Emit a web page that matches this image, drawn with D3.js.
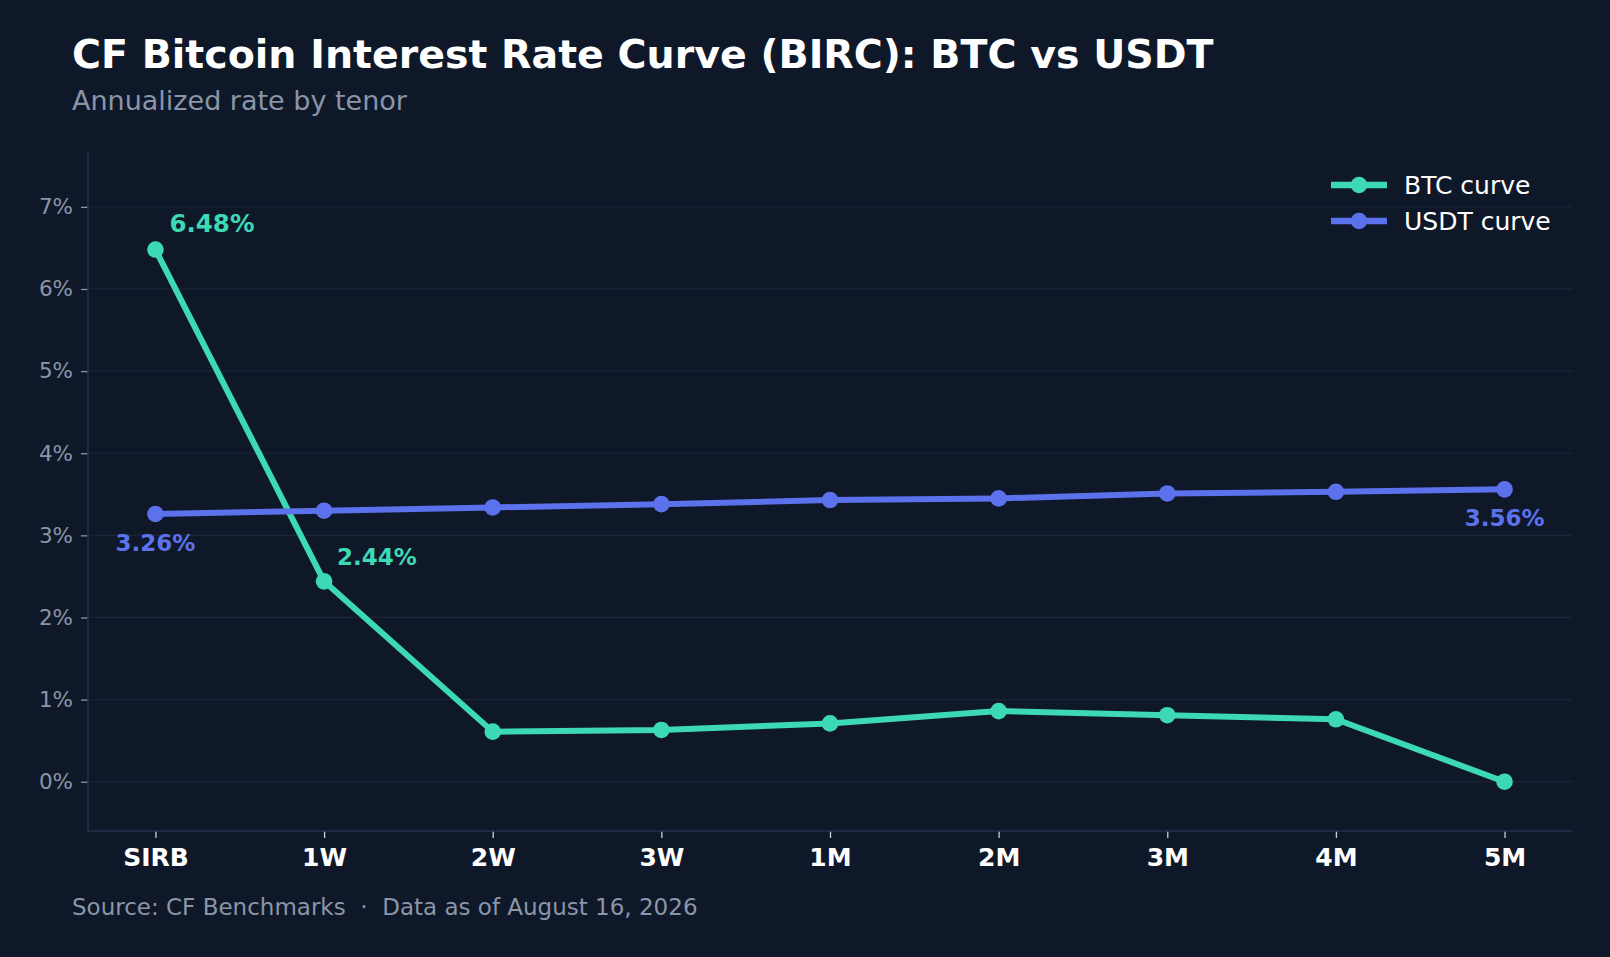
<!DOCTYPE html>
<html>
<head>
<meta charset="utf-8">
<script src="https://cdn.jsdelivr.net/npm/d3@7"></script>
<style>
  html, body { margin: 0; padding: 0; background: #0f1829; }
  svg { display: block; font-family: "DejaVu Sans", sans-serif; }
</style>
</head>
<body>
<svg id="chart"></svg>
<script>
'use strict';

// data
var tenors = ['SIRB', '1W', '2W', '3W', '1M', '2M', '3M', '4M', '5M'];
var btcRates = [6.48, 2.44, 0.61, 0.63, 0.71, 0.86, 0.81, 0.76, 0.00];
var usdtRates = [3.26, 3.30, 3.34, 3.38, 3.43, 3.45, 3.51, 3.53, 3.56];
var yTicks = [0, 1, 2, 3, 4, 5, 6, 7];

var seriesNames = ['BTC curve', 'USDT curve'];
var seriesColors = ['#3dd9b4', '#5b72ec'];

function render() {
    var w = 1610;
    var h = 957;
    var margin = { top: 151, right: 38, bottom: 126, left: 88 };

    var svg = d3.select('#chart').attr('width', w).attr('height', h);
    svg.append('rect').attr('width', w).attr('height', h).attr('fill', '#0f1829');

    var x = d3.scaleLinear()
        .domain([-0.4, tenors.length - 1 + 0.4])
        .range([margin.left, w - margin.right]);
    var y = d3.scaleLinear()
        .domain([-0.6, 7.68])
        .range([h - margin.bottom, margin.top]);

    // grid
    svg.append('g').selectAll('line').data(yTicks).enter().append('line')
        .attr('x1', margin.left).attr('x2', w - margin.right)
        .attr('y1', function (d) { return y(d); })
        .attr('y2', function (d) { return y(d); })
        .attr('stroke', '#1b2538').attr('stroke-width', 1.3);

    // y axis
    var yAxis = svg.append('g')
        .attr('transform', 'translate(' + margin.left + ',0)')
        .call(d3.axisLeft(y).tickValues(yTicks).tickSize(7).tickPadding(8)
            .tickFormat(function (d) { return d + '%'; }));
    yAxis.select('.domain').remove();
    yAxis.selectAll('.tick line').attr('stroke', '#8b95a8').attr('stroke-width', 1.3);
    yAxis.selectAll('.tick text').attr('fill', '#8b95a8')
        .style('font-size', '21.5px').style('font-family', '"DejaVu Sans", sans-serif');

    // x axis
    var xAxis = svg.append('g')
        .attr('transform', 'translate(0,' + (h - margin.bottom) + ')')
        .call(d3.axisBottom(x).tickValues(d3.range(tenors.length)).tickSize(7).tickPadding(10)
            .tickFormat(function (d) { return tenors[d]; }));
    xAxis.select('.domain').remove();
    xAxis.selectAll('.tick line').attr('stroke', '#c9cfda').attr('stroke-width', 1.3);
    xAxis.selectAll('.tick text').attr('fill', '#ffffff')
        .style('font-size', '25px').style('font-weight', 'bold')
        .style('font-family', '"DejaVu Sans", sans-serif');

    // spines
    svg.append('path')
        .attr('d', 'M' + margin.left + ',' + margin.top + 'V' + (h - margin.bottom) + 'H' + (w - margin.right))
        .attr('fill', 'none').attr('stroke', '#243049').attr('stroke-width', 1.5);

    var line = d3.line()
        .x(function (d, i) { return x(i); })
        .y(function (d) { return y(d); });

    [btcRates, usdtRates].forEach(function (vals, k) {
        var g = svg.append('g');
        g.append('path').datum(vals).attr('d', line)
            .attr('fill', 'none').attr('stroke', seriesColors[k])
            .attr('stroke-width', 6).attr('stroke-linejoin', 'round');
        g.selectAll('circle').data(vals).enter().append('circle')
            .attr('cx', function (d, i) { return x(i); })
            .attr('cy', function (d) { return y(d); })
            .attr('r', 8.3).attr('fill', seriesColors[k]);
    });

    // value labels
    var last = tenors.length - 1;
    var labels = [
        { i: 0, v: btcRates[0], color: seriesColors[0], dx: 14, dy: -18, anchor: 'start', size: 24.5 },
        { i: 1, v: btcRates[1], color: seriesColors[0], dx: 13, dy: -16, anchor: 'start', size: 23 },
        { i: 0, v: usdtRates[0], color: seriesColors[1], dx: 0, dy: 37, anchor: 'middle', size: 23 },
        { i: last, v: usdtRates[last], color: seriesColors[1], dx: 0, dy: 37, anchor: 'middle', size: 23 }
    ];
    svg.append('g').selectAll('text').data(labels).enter().append('text')
        .attr('x', function (d) { return x(d.i) + d.dx; })
        .attr('y', function (d) { return y(d.v) + d.dy; })
        .attr('text-anchor', function (d) { return d.anchor; })
        .attr('fill', function (d) { return d.color; })
        .style('font-size', function (d) { return d.size + 'px'; }).style('font-weight', 'bold')
        .text(function (d) { return d.v.toFixed(2) + '%'; });

    // legend
    var legend = svg.append('g').attr('transform', 'translate(1331,185)');
    seriesNames.forEach(function (name, k) {
        var row = legend.append('g').attr('transform', 'translate(0,' + (k * 36) + ')');
        row.append('line').attr('x1', 0).attr('x2', 56).attr('y1', 0).attr('y2', 0)
            .attr('stroke', seriesColors[k]).attr('stroke-width', 6.5);
        row.append('circle').attr('cx', 28).attr('cy', 0).attr('r', 8.3).attr('fill', seriesColors[k]);
        row.append('text').attr('x', 73).attr('y', 9)
            .attr('fill', '#ffffff').style('font-size', '25px').text(name);
    });

    // titles
    svg.append('text').attr('x', 72).attr('y', 68)
        .attr('fill', '#ffffff').style('font-size', '39.5px').style('font-weight', 'bold')
        .text('CF Bitcoin Interest Rate Curve (BIRC): BTC vs USDT');
    svg.append('text').attr('x', 72).attr('y', 110)
        .attr('fill', '#8b95a8').style('font-size', '27px')
        .text('Annualized rate by tenor');
    svg.append('text').attr('x', 72).attr('y', 915)
        .attr('fill', '#8b95a8').style('font-size', '23px')
        .attr('xml:space', 'preserve').style('white-space', 'pre')
        .text('Source: CF Benchmarks  \u00b7  Data as of August 16, 2026');
}

render();
</script>
</body>
</html>
